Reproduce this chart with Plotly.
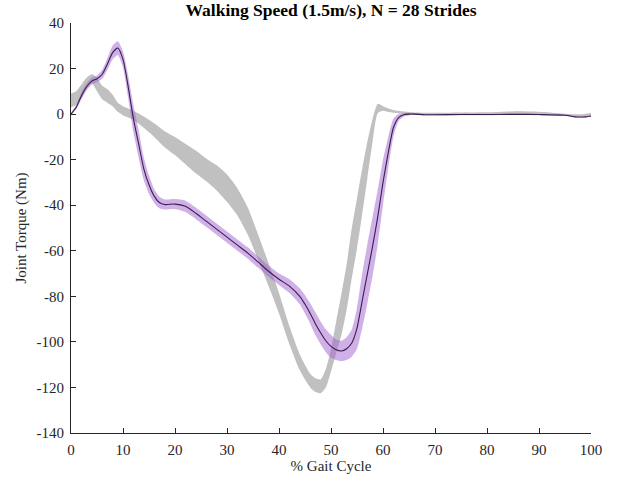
import plotly.graph_objects as go

# Purple series (mean and spread)
p_x = [0, 1, 2, 3, 4, 5, 6, 7, 8, 9, 10, 11, 12, 13, 14, 15, 16, 17, 18, 20, 22, 24, 26, 28, 30,
       32, 34, 36, 38, 40, 42, 44, 45, 46, 47, 48, 49, 50, 51, 52, 53, 54, 55, 56, 57, 58, 59, 60,
       61, 62, 63, 64, 65, 66, 68, 70, 75, 80, 85, 90, 95, 97, 98, 99, 100]
p_mean = [0, 3, 8, 12, 14.5, 15.5, 17.5, 22, 27, 29, 24, 12, -2, -13, -24, -31, -36, -38.8, -39.7,
          -39.5, -40.5, -43.5, -47, -50.5, -54, -57.5, -61, -65, -69, -72.5, -75.5, -80, -83.5,
          -87.5, -92, -96, -99.5, -102, -103.5, -104, -103, -100.5, -94, -82, -70, -58, -45, -30,
          -17, -6, -1.5, -0.3, 0, 0, -0.3, -0.3, -0.2, -0.2, -0.1, -0.2, -0.5, -1.2, -1.3, -1.2, -0.8]
p_sd = [0.5, 1, 1.5, 1.5, 1.5, 1.5, 2, 2.5, 3, 3, 3.5, 5, 6, 6, 5, 4, 3, 2.5, 2.2, 2.2, 2.5, 2.5,
        2.5, 2.5, 2.5, 2.5, 2.5, 2.5, 2.5, 2.5, 3, 3.5, 4, 4.5, 5, 5, 5, 5, 4.5, 4.5, 5, 6, 9, 12,
        13, 13, 12, 10, 7, 4, 1.5, 0.7, 0.5, 0.4, 0.3, 0.3, 0.3, 0.3, 0.3, 0.3, 0.3, 0.3, 0.3, 0.3, 0.3]

# Gray series (mean and spread)
g_x = [0, 1, 2, 3, 4, 5, 6, 7, 8, 9, 10, 12, 14, 16, 18, 20, 22, 24, 26, 28, 30, 32, 34, 36, 38,
       40, 42, 44, 46, 47, 48, 49, 50, 51, 52, 53, 54, 55, 56, 57, 58, 58.5, 59, 60, 61, 62, 64,
       66, 70, 80, 85, 90, 95, 98, 100]
g_mean = [6, 7, 10, 13.5, 15.5, 13, 9.5, 8, 6, 3, 1.5, -0.5, -3.5, -7, -11, -14, -17.5, -21,
          -24.5, -28, -32.5, -38.5, -47, -58.5, -70.5, -83, -97, -109, -117, -119, -119.5, -116,
          -108, -98, -88, -76, -61, -48, -34, -20, -7, -1, 2.5, 2.5, 1.8, 1.2, 0.6, 0.3, 0.2, 0.3,
          0.6, 0.5, -0.2, -0.6, -0.3]
g_sd = [3, 3, 3, 2.5, 2, 3, 3, 3, 2.5, 2, 2, 2, 2.5, 3, 3.5, 4, 4.5, 5, 5, 5.5, 6, 6, 6, 5.5, 5,
        4.5, 4, 3.5, 3, 3, 3, 4, 5, 7, 9, 10, 11, 11, 10, 8, 5, 3, 2, 1, 0.8, 0.6, 0.5, 0.4, 0.4,
        0.5, 0.6, 0.5, 0.4, 0.5, 0.8]

x_ticks = [0, 10, 20, 30, 40, 50, 60, 70, 80, 90, 100]
y_ticks = [-140, -120, -100, -80, -60, -40, -20, 0, 20, 40]
y_ticklabels = ["-140", "-120", "-100", "-80", "-60", "-40", "-20", "0", "20", "40"]

FONT = "Liberation Serif, Times New Roman, serif"
AX = "rgb(38,38,38)"

fig = go.Figure()

def band(x, m, s, color):
    up = [a + b for a, b in zip(m, s)]
    lo = [a - b for a, b in zip(m, s)]
    fig.add_trace(go.Scatter(x=x, y=up, mode="lines", line=dict(width=0, shape="spline", smoothing=0.6),
                             hoverinfo="skip", showlegend=False))
    fig.add_trace(go.Scatter(x=x, y=lo, mode="lines", line=dict(width=0, shape="spline", smoothing=0.6),
                             fill="tonexty", fillcolor=color, hoverinfo="skip", showlegend=False))

band(g_x, g_mean, g_sd, "rgba(150,150,150,0.6)")
band(p_x, p_mean, p_sd, "rgba(160,100,210,0.5)")
fig.add_trace(go.Scatter(x=p_x, y=p_mean, mode="lines",
                         line=dict(color="rgb(60,28,80)", width=1.1, shape="spline", smoothing=0.6),
                         showlegend=False))

fig.update_layout(
    width=623, height=485,
    margin=dict(l=71, r=32, t=23, b=52, autoexpand=False),
    paper_bgcolor="white", plot_bgcolor="white",
    font=dict(family=FONT, size=15, color=AX),
    title=dict(text="<b>Walking Speed (1.5m/s), N = 28 Strides</b>", xref="paper", x=0.5,
               xanchor="center", yref="container", y=0.993, yanchor="top",
               font=dict(family=FONT, size=17.5, color="black")),
    xaxis=dict(range=[0, 100], tickvals=x_ticks, ticks="inside", ticklen=5, tickcolor=AX,
               showline=True, linecolor=AX, linewidth=1, showgrid=False, zeroline=False,
               mirror=False, automargin=False, ticklabelstandoff=3,
               title=dict(text="% Gait Cycle", font=dict(size=15), standoff=2),
               tickfont=dict(size=15)),
    yaxis=dict(range=[-140, 40], tickvals=y_ticks, ticktext=y_ticklabels, ticks="inside",
               ticklen=5, tickcolor=AX, showline=True, linecolor=AX, linewidth=1,
               showgrid=False, zeroline=False, mirror=False, automargin=False,
               ticklabelstandoff=3,
               title=dict(text="Joint Torque (Nm)", font=dict(size=15), standoff=6),
               tickfont=dict(size=15)),
)

fig.write_html("out.html", config={"displayModeBar": False},
               post_script="document.body.style.margin='0px';")
